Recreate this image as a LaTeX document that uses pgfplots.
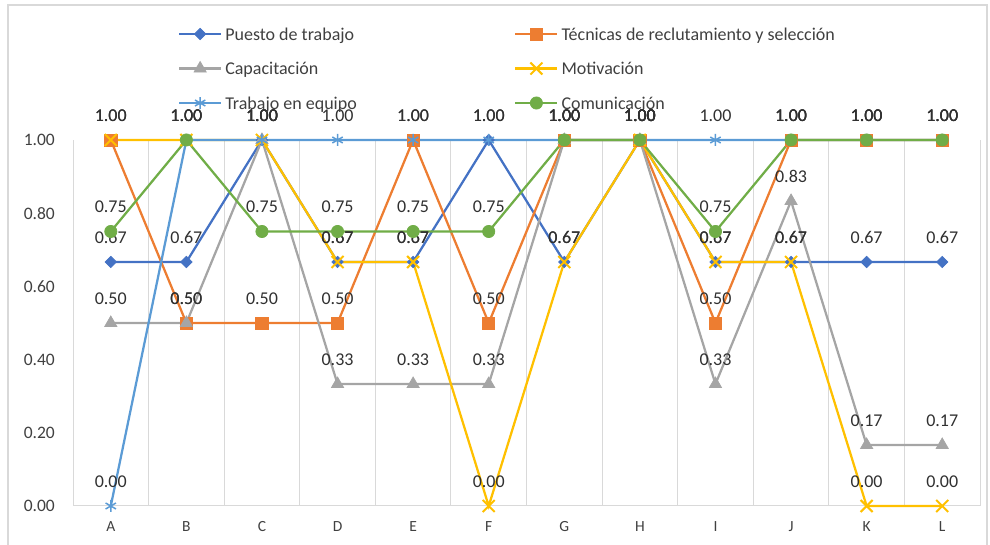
\documentclass[border=0pt]{standalone}
\usepackage{pgfplots}
\pgfplotsset{compat=1.18}
\usepackage{fontspec}
\setmainfont{Carlito}
\definecolor{cBlue}{HTML}{4472C4}
\definecolor{cOrange}{HTML}{ED7D31}
\definecolor{cGray}{HTML}{A5A5A5}
\definecolor{cYellow}{HTML}{FFC000}
\definecolor{cLBlue}{HTML}{5B9BD5}
\definecolor{cGreen}{HTML}{70AD47}
\definecolor{gridc}{HTML}{D9D9D9}
\definecolor{lbl}{HTML}{303030}
\definecolor{tkl}{HTML}{404040}
\begin{document}
\begin{tikzpicture}[x=1bp,y=1bp]
\useasboundingbox (0,0) rectangle (990,545);
\begin{axis}[
  at={(73bp,39bp)}, anchor=south west,
  scale only axis, width=907bp, height=366bp,
  xmin=-0.5, xmax=11.5, ymin=0, ymax=1,
  clip=false,
  axis line style={draw=none},
  tick style={draw=none},
  major tick length=0pt, minor tick length=0pt,
  xtick={0,1,2,3,4,5,6,7,8,9,10,11},
  xticklabels={A,B,C,D,E,F,G,H,I,J,K,L},
  minor xtick={-0.5,0.5,1.5,2.5,3.5,4.5,5.5,6.5,7.5,8.5,9.5,10.5,11.5},
  xminorgrids=true,
  minor x grid style={color=gridc, line width=1bp},
  ytick={0,0.2,0.4,0.6,0.8,1},
  /pgf/number format/assume math mode=true,
  yticklabel={\pgfmathprintnumber[fixed,fixed zerofill,precision=2]{\tick}},
  yticklabel style={font=\fontsize{17.5bp}{20bp}\selectfont, color=tkl, inner sep=0pt, anchor=east, xshift=-18bp},
  xticklabel style={font=\fontsize{15.5bp}{18bp}\selectfont, color=tkl, inner sep=0pt, anchor=north, text height=10bp, text depth=0pt, yshift=-15.5bp},
  nodes near coords={\pgfmathprintnumber[fixed,fixed zerofill,precision=2]{\pgfplotspointmeta}},
  every node near coord/.append style={font=\fontsize{18bp}{20bp}\selectfont, color=lbl, inner sep=0pt, anchor=center, yshift=24.5bp},
  legend columns=2,
  legend cell align=left,
  legend style={at={(0.1158,1.3107)}, anchor=north west, draw=none, fill=none, inner sep=0pt, outer sep=0pt, row sep=19bp, font=\fontsize{18bp}{20bp}\selectfont, text=tkl, nodes={inner sep=0pt}},
  legend image code/.code={\draw[mark repeat=2,mark phase=2,#1] plot coordinates {(0bp,0bp) (21bp,0bp) (42bp,0bp)};},
]
\draw[color=gridc, line width=1bp] (axis cs:-0.5,0) -- (axis cs:11.5,0);

\addplot[color=cBlue, line width=2.25bp, mark=square*, mark size=4bp, mark options={solid, rotate=45, fill=cBlue, line width=0.75bp}]
coordinates {(0,0.6667) (1,0.6667) (2,1) (3,0.6667) (4,0.6667) (5,1) (6,0.6667) (7,1) (8,0.6667) (9,0.6667) (10,0.6667) (11,0.6667)};
\addlegendentry{\makebox[292bp][l]{\rule[-6bp]{0pt}{20bp}\hspace{3bp}Puesto de trabajo}}

\addplot[color=cOrange, line width=2.25bp, mark=square*, mark size=6.1bp, mark options={solid, fill=cOrange, line width=0.75bp}]
coordinates {(0,1) (1,0.5) (2,0.5) (3,0.5) (4,1) (5,0.5) (6,1) (7,1) (8,0.5) (9,1) (10,1) (11,1)};
\addlegendentry{\rule[-6bp]{0pt}{20bp}\hspace{3bp}Técnicas de reclutamiento y selección}

\addplot[color=cGray, line width=2.25bp, mark=triangle*, mark size=7bp, mark options={solid, fill=cGray, line width=0.75bp}]
coordinates {(0,0.5) (1,0.5) (2,1) (3,0.3333) (4,0.3333) (5,0.3333) (6,1) (7,1) (8,0.3333) (9,0.8333) (10,0.1667) (11,0.1667)};
\addlegendentry{\makebox[292bp][l]{\rule[-6bp]{0pt}{20bp}\hspace{3bp}Capacitación}}

\addplot[color=cYellow, line width=2.25bp, mark=x, mark size=8.5bp, mark options={solid, line width=2bp}]
coordinates {(0,1) (1,1) (2,1) (3,0.6667) (4,0.6667) (5,0) (6,0.6667) (7,1) (8,0.6667) (9,0.6667) (10,0) (11,0)};
\addlegendentry{\rule[-6bp]{0pt}{20bp}\hspace{3bp}Motivación}

\addplot[color=cLBlue, line width=2.25bp, mark=asterisk, mark size=6bp, mark options={solid, line width=1.5bp}]
coordinates {(0,0) (1,1) (2,1) (3,1) (4,1) (5,1) (6,1) (7,1) (8,1) (9,1) (10,1) (11,1)};
\addlegendentry{\makebox[292bp][l]{\rule[-6bp]{0pt}{20bp}\hspace{3bp}Trabajo en equipo}}

\addplot[color=cGreen, line width=2.25bp, mark=*, mark size=6.1bp, mark options={solid, fill=cGreen, line width=0.75bp}]
coordinates {(0,0.75) (1,1) (2,0.75) (3,0.75) (4,0.75) (5,0.75) (6,1) (7,1) (8,0.75) (9,1) (10,1) (11,1)};
\addlegendentry{\rule[-6bp]{0pt}{20bp}\hspace{3bp}Comunicación}
\end{axis}
\draw[color=gridc, line width=1.2bp] (8,-10) -- (8,540) -- (987,540) -- (987,-10);
\end{tikzpicture}
\end{document}
